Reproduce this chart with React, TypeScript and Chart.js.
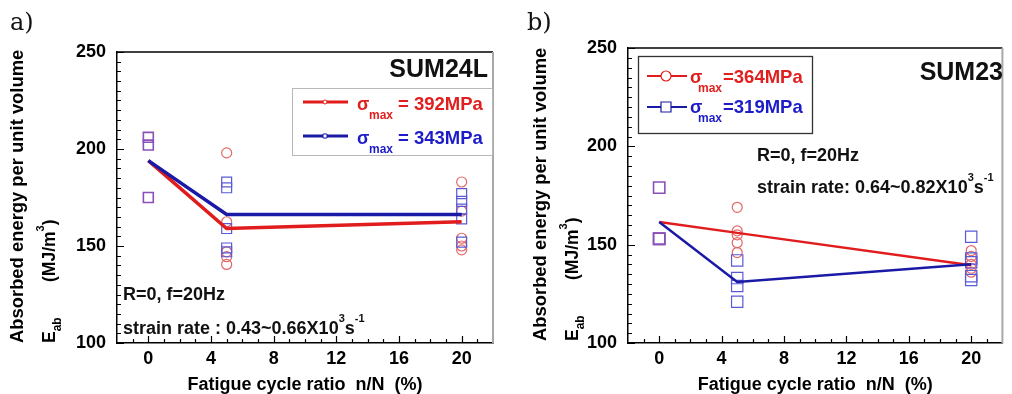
import React, { useEffect, useRef } from 'react';
import { Chart, registerables } from 'chart.js';
Chart.register(...registerables);

const FONT = "'Liberation Sans', Arial, Helvetica, sans-serif";
const SERIF = "'DejaVu Serif', serif";

// ---------- data ----------
const cycleRatios = [0, 5, 20];
const xTickValues = [0, 4, 8, 12, 16, 20];
const yTickValues = [100, 150, 200, 250];

// panel a) SUM24L
const aUnfatigued = [206, 202, 175];
const aRed5 = [198, 162.5, 147, 144.5, 140.5];
const aRed20 = [183, 168, 154, 150, 148];
const aBlue5 = [183, 180, 159, 149, 147];
const aBlue20 = [177, 173, 169, 164, 152];
const aRedTrend = [194, 159, 162.5];
const aBlueTrend = [194, 166.3, 166.3];

// panel b) SUM23
const bUnfatigued = [179, 153, 153];
const bRed5 = [169, 157, 155, 151, 146];
const bRed20 = [147, 144, 140, 138, 136];
const bBlue5 = [142, 133, 129, 121];
const bBlue20 = [154, 143, 141, 134, 132];
const bRedTrend = [161.5, 156, 139.5];
const bBlueTrend = [161.5, 131, 140];

// ---------- colours ----------
const RED_LINE = '#e01c1c';
const BLUE_LINE = '#1a1aa6';
const RED_MARK = '#e46868';
const BLUE_MARK = '#5a5ad6';
const PURPLE_MARK = '#8a50b8';
const RED_TEXT = '#e0201e';
const BLUE_TEXT = '#1c1cc8';

type Seg = { t: string; size?: number; dy?: number; color?: string; at?: number; weight?: string; family?: string };

function drawRich(ctx: CanvasRenderingContext2D, segs: Seg[], x: number, y: number, size: number, color: string, rotate = false) {
  ctx.save();
  ctx.translate(x, y);
  if (rotate) ctx.rotate(-Math.PI / 2);
  ctx.textBaseline = 'alphabetic';
  ctx.textAlign = 'left';
  let cx = 0;
  for (const s of segs) {
    if (s.at !== undefined) cx = s.at;
    const sz = s.size ?? size;
    ctx.font = `${s.weight ?? 'bold'} ${sz}px ${s.family ?? FONT}`;
    ctx.fillStyle = s.color ?? color;
    ctx.fillText(s.t, cx, s.dy ?? 0);
    cx += ctx.measureText(s.t).width;
  }
  ctx.restore();
}

interface LegendEntry {
  color: string; lineColor: string; y: number; x1: number; x2: number; mx: number;
  marker: 'tinyCircle' | 'tinyRect' | 'circle' | 'rect';
  sigmaX: number; subX: number; valX: number; base: number; subBase: number; text: string;
}

interface PanelSpec {
  width: number; left: number; right: number; top: number; bottom: number;
  lineWidth: number; circleR: number; rectR: number;
  unf: number[]; red5: number[]; red20: number[]; blue5: number[]; blue20: number[];
  redTrend: number[]; blueTrend: number[];
  label: string; labelX: number;
  t1x: number; t2x: number; ty: number;
  box: [number, number, number, number]; boxColor: string; boxLw: number; legendLw: number;
  entries: LegendEntry[];
  name: string; nameRight: number; nameBase: number;
  notes: { x: number; y: number; segs: Seg[] }[];
}

const pts = (x: number, ys: number[]) => ys.map((y) => ({ x, y }));

const panelA: PanelSpec = {
  width: 510, left: 117, right: 493, top: 52, bottom: 343,
  lineWidth: 3.5, circleR: 5, rectR: 7,
  unf: aUnfatigued, red5: aRed5, red20: aRed20, blue5: aBlue5, blue20: aBlue20,
  redTrend: aRedTrend, blueTrend: aBlueTrend,
  label: 'a)', labelX: 10,
  t1x: 23, t2x: 55, ty: 343,
  box: [292, 88, 200, 67], boxColor: '#b8b8b8', boxLw: 1, legendLw: 3,
  entries: [
    { color: RED_TEXT, lineColor: RED_LINE, y: 102, x1: 303, x2: 348, mx: 325, marker: 'tinyCircle', sigmaX: 357, subX: 369, valX: 398, base: 109.5, subBase: 118.5, text: '= 392MPa' },
    { color: BLUE_TEXT, lineColor: BLUE_LINE, y: 136, x1: 303, x2: 348, mx: 325, marker: 'tinyRect', sigmaX: 357, subX: 369, valX: 398, base: 143.5, subBase: 152.5, text: '= 343MPa' },
  ],
  name: 'SUM24L', nameRight: 488, nameBase: 77,
  notes: [
    { x: 123, y: 300, segs: [{ t: 'R=0, f=20Hz' }] },
    { x: 123, y: 334, segs: [{ t: 'strain rate : 0.43~0.66X10' }, { t: '3', size: 11, dy: -12 }, { t: 's' }, { t: '-1', size: 11, dy: -12 }] },
  ],
};

const panelB: PanelSpec = {
  width: 502, left: 118, right: 500, top: 48, bottom: 343,
  lineWidth: 2.5, circleR: 5, rectR: 8,
  unf: bUnfatigued, red5: bRed5, red20: bRed20, blue5: bBlue5, blue20: bBlue20,
  redTrend: bRedTrend, blueTrend: bBlueTrend,
  label: 'b)', labelX: 17,
  t1x: 36, t2x: 68, ty: 341,
  box: [128, 56, 174, 77], boxColor: '#333', boxLw: 1.3, legendLw: 2,
  entries: [
    { color: RED_TEXT, lineColor: RED_LINE, y: 76, x1: 137, x2: 177, mx: 156, marker: 'circle', sigmaX: 180, subX: 188, valX: 213, base: 83, subBase: 92, text: '=364MPa' },
    { color: BLUE_TEXT, lineColor: BLUE_LINE, y: 107, x1: 137, x2: 177, mx: 156, marker: 'rect', sigmaX: 180, subX: 188, valX: 213, base: 113, subBase: 122, text: '=319MPa' },
  ],
  name: 'SUM23', nameRight: 493, nameBase: 80,
  notes: [
    { x: 247, y: 161, segs: [{ t: 'R=0, f=20Hz' }] },
    { x: 247, y: 193, segs: [{ t: 'strain rate: 0.64~0.82X10' }, { t: '3', size: 11, dy: -12 }, { t: 's' }, { t: '-1', size: 11, dy: -12 }] },
  ],
};

function makeChart(canvas: HTMLCanvasElement, p: PanelSpec) {
  const H = 394;
  const tickFont = { family: FONT, size: 18, weight: 'bold' as const };
  const overlay = {
    id: 'overlay',
    afterDraw(chart: any) {
      const { ctx, chartArea: ca, scales } = chart;
      const xs = scales.x;
      const ys = scales.y;
      ctx.save();
      // frame
      ctx.strokeStyle = '#000';
      ctx.lineWidth = 1.5;
      ctx.beginPath();
      ctx.moveTo(ca.left, ca.top);
      ctx.lineTo(ca.right, ca.top);
      ctx.stroke();
      ctx.strokeStyle = '#a8a8a8';
      ctx.lineWidth = 2;
      ctx.beginPath();
      ctx.moveTo(ca.right, ca.top);
      ctx.lineTo(ca.right, ca.bottom);
      ctx.stroke();
      // inward ticks
      ctx.strokeStyle = '#000';
      ctx.lineWidth = 1.2;
      ctx.beginPath();
      for (let v = 100; v <= 250; v += 5) {
        const len = v % 50 === 0 ? 7 : 4;
        const y = Math.round(ys.getPixelForValue(v)) + 0.5;
        ctx.moveTo(ca.left, y);
        ctx.lineTo(ca.left + len, y);
      }
      for (let v = -1; v <= 21; v += 1) {
        const len = xTickValues.includes(v) ? 7 : 4;
        const x = Math.round(xs.getPixelForValue(v)) + 0.5;
        ctx.moveTo(x, ca.bottom);
        ctx.lineTo(x, ca.bottom - len);
      }
      ctx.stroke();

      // panel label
      ctx.font = `24px ${SERIF}`;
      ctx.fillStyle = '#111';
      ctx.textBaseline = 'alphabetic';
      ctx.textAlign = 'left';
      ctx.fillText(p.label, p.labelX, 30);

      // y title
      drawRich(ctx, [{ t: 'Absorbed energy per unit volume' }], p.t1x, p.ty, 18.4, '#000', true);
      drawRich(ctx, [{ t: 'E' }, { t: 'ab', size: 12, dy: 6 }, { t: '(MJ/m', at: 61 }, { t: '3', size: 11, dy: -11 }, { t: ')' }], p.t2x, p.ty, 17.5, '#000', true);

      // legend
      const [bx, by, bw, bh] = p.box;
      ctx.fillStyle = '#fff';
      ctx.fillRect(bx, by, bw, bh);
      ctx.strokeStyle = p.boxColor;
      ctx.lineWidth = p.boxLw;
      ctx.strokeRect(bx + 0.5, by + 0.5, bw, bh);
      for (const e of p.entries) {
        ctx.strokeStyle = e.lineColor;
        ctx.lineWidth = p.legendLw;
        ctx.beginPath();
        ctx.moveTo(e.x1, e.y);
        ctx.lineTo(e.x2, e.y);
        ctx.stroke();
        ctx.fillStyle = '#fff';
        ctx.lineWidth = e.marker.startsWith('tiny') ? 1 : 1.2;
        ctx.beginPath();
        if (e.marker === 'tinyCircle') ctx.arc(e.mx, e.y, 2, 0, Math.PI * 2);
        else if (e.marker === 'tinyRect') ctx.rect(e.mx - 2, e.y - 2, 4, 4);
        else if (e.marker === 'circle') ctx.arc(e.mx, e.y, 5, 0, Math.PI * 2);
        else ctx.rect(e.mx - 5, e.y - 5, 10, 10);
        ctx.fill();
        ctx.stroke();
        drawRich(ctx, [{ t: 'σ' }], e.sigmaX, e.base, 18, e.color);
        drawRich(ctx, [{ t: 'max' }], e.subX, e.subBase, 12, e.color);
        drawRich(ctx, [{ t: e.text }], e.valX, e.base, 18.5, e.color);
      }

      // material name
      ctx.font = `bold 25px ${FONT}`;
      ctx.fillStyle = '#111';
      ctx.textAlign = 'right';
      ctx.fillText(p.name, p.nameRight, p.nameBase);
      ctx.textAlign = 'left';

      // notes
      for (const n of p.notes) drawRich(ctx, n.segs, n.x, n.y, 18, '#111');
      ctx.restore();
    },
  };

  const datasets: any[] = [
    { label: 'blue trend', data: cycleRatios.map((x, i) => ({ x, y: p.blueTrend[i] })), showLine: true, borderColor: BLUE_LINE, borderWidth: p.lineWidth, pointRadius: 0, fill: false },
    { label: 'red trend', data: cycleRatios.map((x, i) => ({ x, y: p.redTrend[i] })), showLine: true, borderColor: RED_LINE, borderWidth: p.lineWidth, pointRadius: 0, fill: false },
    { label: 'blue', data: [...pts(5, p.blue5), ...pts(20, p.blue20)], pointStyle: 'rect', pointRadius: p.rectR, borderColor: BLUE_MARK, backgroundColor: 'rgba(0,0,0,0)', borderWidth: 1.2 },
    { label: 'red', data: [...pts(5, p.red5), ...pts(20, p.red20)], pointStyle: 'circle', pointRadius: p.circleR, borderColor: RED_MARK, backgroundColor: 'rgba(0,0,0,0)', borderWidth: 1.2 },
    { label: 'unfatigued', data: pts(0, p.unf), pointStyle: 'rect', pointRadius: p.rectR, borderColor: PURPLE_MARK, backgroundColor: 'rgba(0,0,0,0)', borderWidth: 1.6 },
  ];

  return new Chart(canvas, {
    type: 'scatter',
    data: { datasets },
    options: {
      animation: false,
      responsive: false,
      events: [],
      layout: { padding: { left: 0, right: p.width - p.right, top: p.top, bottom: 0 } },
      plugins: { legend: { display: false }, tooltip: { enabled: false }, title: { display: false } },
      scales: {
        x: {
          type: 'linear', min: -2, max: 22,
          afterBuildTicks: (s: any) => { s.ticks = xTickValues.map((v) => ({ value: v })); },
          afterFit: (s: any) => { s.height = H - p.bottom; },
          grid: { display: false, drawTicks: false },
          border: { display: true, color: '#000', width: 1.5 },
          ticks: { font: tickFont, color: '#000', padding: 5, maxRotation: 0, autoSkip: false },
          title: { display: true, text: 'Fatigue cycle ratio  n/N  (%)', font: { family: FONT, size: 18, weight: 'bold' }, color: '#000', padding: { top: 0, bottom: -2 } },
        },
        y: {
          type: 'linear', min: 100, max: 250,
          afterBuildTicks: (s: any) => { s.ticks = yTickValues.map((v) => ({ value: v })); },
          afterFit: (s: any) => { s.width = p.left; },
          grid: { display: false, drawTicks: false },
          border: { display: true, color: '#000', width: 1.5 },
          ticks: { font: tickFont, color: '#000', padding: 11 },
        },
      },
    } as any,
    plugins: [overlay],
  });
}

function Panel({ spec, x }: { spec: PanelSpec; x: number }) {
  const ref = useRef<HTMLCanvasElement>(null);
  useEffect(() => {
    if (!ref.current) return;
    const c = makeChart(ref.current, spec);
    return () => c.destroy();
  }, [spec]);
  return (
    <canvas
      ref={ref}
      width={spec.width}
      height={394}
      style={{ position: 'absolute', left: x, top: 0, width: spec.width, height: 394, display: 'block' }}
    />
  );
}

export default function App() {
  return (
    <div style={{ position: 'fixed', left: 0, top: 0, width: 1012, height: 394, background: '#fff', overflow: 'hidden' }}>
      <Panel spec={panelA} x={0} />
      <Panel spec={panelB} x={510} />
    </div>
  );
}
